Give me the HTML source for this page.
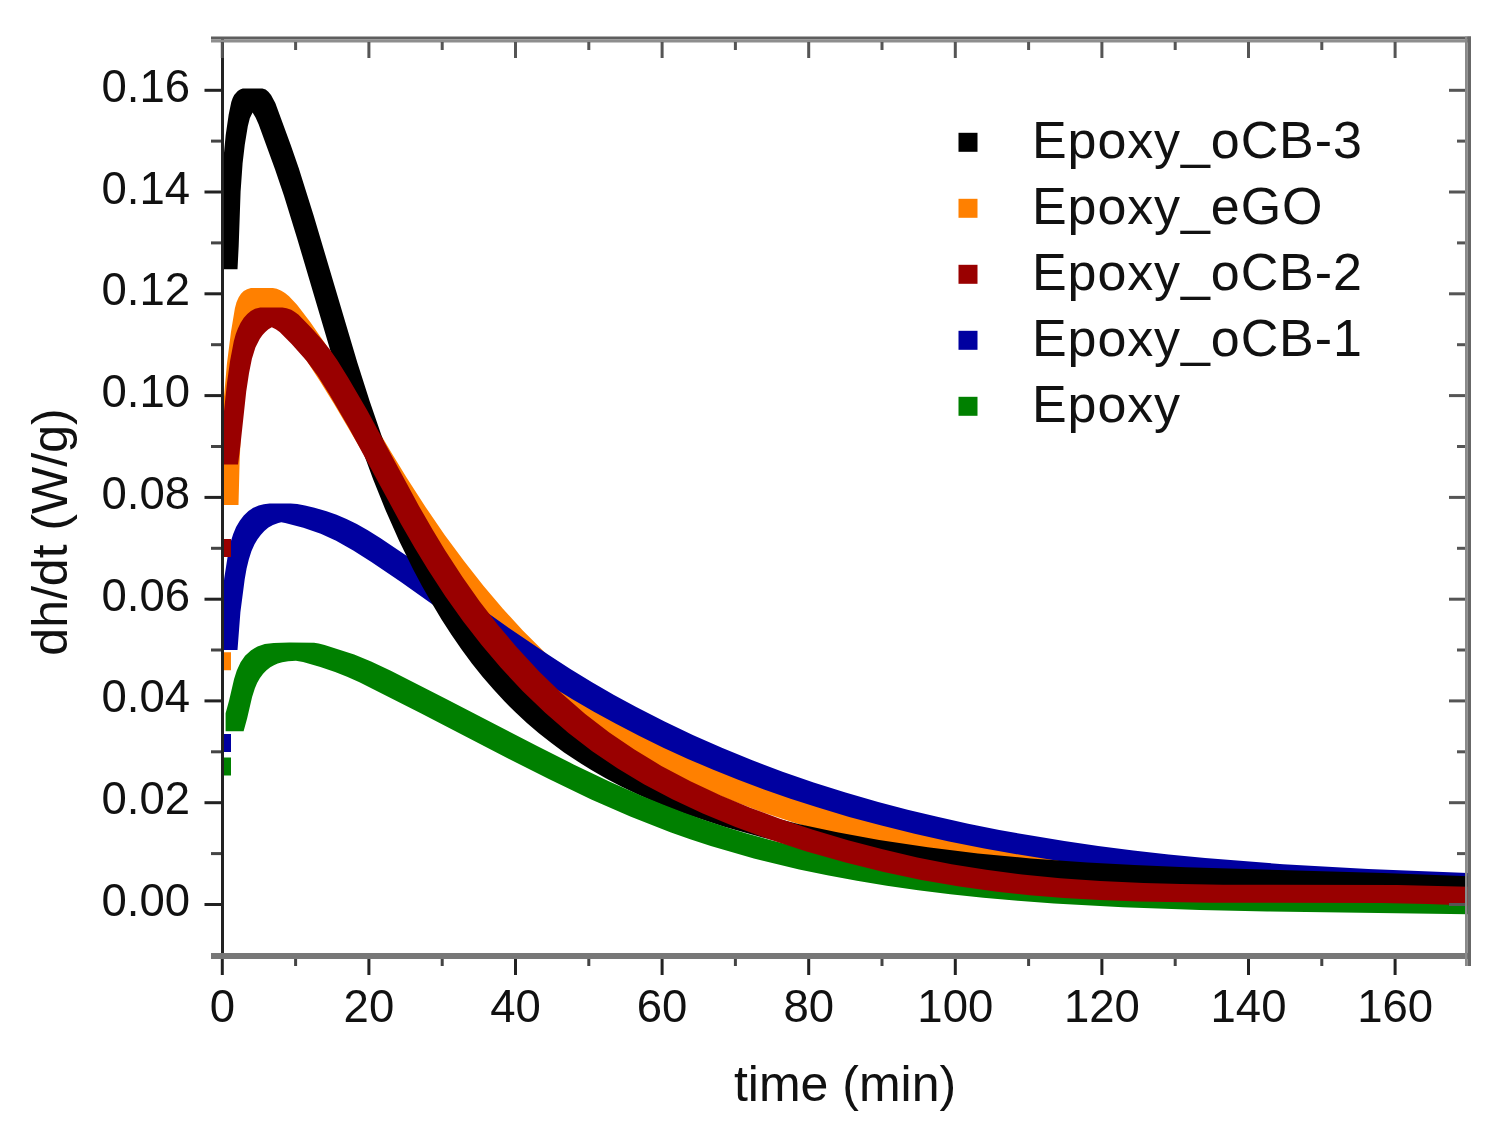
<!DOCTYPE html>
<html><head><meta charset="utf-8"><title>dh/dt vs time</title>
<style>html,body{margin:0;padding:0;background:#fff;}svg{display:block;}</style>
</head><body>
<svg width="1501" height="1137" viewBox="0 0 1501 1137">
<rect width="1501" height="1137" fill="#fff"/>
<path fill="#ff8000" d="M224.0,396.7 222.3,424.6 221.2,456.7 221.0,505.0 238.5,505.0 239.6,462.1 241.1,428.6 243.3,398.4 246.3,369.3 250.4,340.3 253.6,323.2 255.4,318.1 257.4,314.0 259.7,310.9 262.7,308.5 266.5,310.8 270.5,313.9 278.6,322.2 292.0,339.8 307.3,361.8 320.3,381.8 334.1,403.9 373.6,471.0 389.0,496.2 408.0,525.7 427.1,553.4 446.0,579.1 465.4,603.7 484.9,626.7 504.8,648.4 529.4,673.1 554.6,695.9 580.1,716.4 606.6,735.4 634.7,753.1 664.7,769.8 696.2,785.3 729.7,799.7 760.5,811.4 792.9,822.3 826.4,832.2 862.1,841.5 899.2,849.9 938.2,857.6 979.2,864.6 1021.3,870.7 1061.7,875.6 1104.0,879.9 1148.1,883.6 1195.3,886.8 1241.3,889.3 1292.2,891.6 1468.0,897.7 1468.0,879.0 1291.0,872.8 1233.6,870.0 1182.2,866.8 1130.3,862.7 1082.1,857.9 1035.7,852.2 991.2,845.6 956.2,839.6 922.5,833.0 890.7,826.0 859.6,818.3 829.9,810.0 801.2,801.1 773.9,791.7 747.7,781.7 714.2,767.3 682.7,751.8 652.7,735.1 624.6,717.4 598.1,698.4 572.6,677.9 547.4,655.1 522.8,630.4 502.9,608.7 483.4,585.7 464.0,561.1 444.7,534.9 425.7,507.2 406.7,477.7 391.3,452.5 352.4,386.5 338.7,364.3 325.6,344.3 310.4,322.3 297.0,304.7 289.0,296.3 285.0,293.1 281.3,290.8 276.8,288.8 272.8,288.0 250.9,288.1 247.1,289.2 243.8,291.1 241.0,293.7 238.6,297.4 236.5,302.3 234.9,308.3 231.0,331.7 226.9,363.9ZM231.0,670.3 231.0,652.3 221.0,652.3 221.0,670.3Z"/>
<path fill="#0000a0" d="M228.6,550.4 224.2,578.5 221.0,609.7 221.0,650.0 237.5,650.0 240.4,612.3 244.7,579.3 246.6,568.4 248.8,559.4 251.4,551.3 254.4,544.6 257.5,539.3 260.7,534.9 264.3,531.0 268.4,527.6 272.9,525.0 278.3,523.0 281.3,522.3 285.2,523.0 303.4,527.7 320.8,533.7 336.1,540.7 353.3,550.4 371.4,562.0 400.6,581.8 491.4,646.2 530.4,672.8 551.3,686.3 572.4,699.3 593.9,711.7 615.5,723.6 639.0,735.8 663.3,747.7 687.9,758.9 712.7,769.6 738.2,779.8 764.0,789.4 790.5,798.7 817.2,807.3 849.2,816.9 881.5,825.6 914.6,833.8 949.0,841.4 984.3,848.4 1020.3,854.8 1057.6,860.7 1095.7,866.0 1134.5,870.7 1174.6,874.9 1216.6,878.6 1260.4,881.9 1306.0,884.7 1354.5,887.2 1468.0,891.5 1468.0,873.0 1368.3,869.0 1283.2,864.2 1205.2,858.1 1168.7,854.5 1133.4,850.5 1098.2,845.9 1064.3,841.0 1031.2,835.6 999.3,829.9 968.2,823.7 937.3,816.8 907.6,809.7 878.2,801.9 845.5,792.5 813.6,782.4 782.5,771.7 752.3,760.3 722.4,748.1 693.3,735.2 664.6,721.6 636.7,707.3 614.0,694.9 592.0,682.2 570.3,669.0 548.4,654.8 508.9,627.9 422.9,566.8 380.2,538.0 367.8,530.3 356.8,524.1 346.5,519.0 336.6,514.8 326.6,511.3 314.5,507.7 305.0,505.4 297.2,504.1 290.6,503.6 269.6,503.6 263.8,504.3 258.7,505.5 253.3,507.8 248.5,511.0 243.8,515.5 239.8,520.8 236.1,527.1 233.2,533.9 230.8,541.4ZM231.0,752.0 231.0,734.0 221.0,734.0 221.0,752.0Z"/>
<path fill="#000000" d="M223.6,157.2 222.3,180.6 221.0,221.0 221.0,269.2 237.5,269.2 238.7,245.8 240.6,191.6 242.6,163.3 244.8,144.5 247.8,126.3 249.8,118.3 252.6,112.5 255.7,117.7 258.7,124.5 275.0,169.3 283.9,195.6 297.0,237.9 337.8,375.7 349.5,412.5 360.5,445.1 373.1,479.3 385.9,511.1 399.2,541.0 413.2,569.5 422.4,586.7 432.0,603.6 441.7,619.8 451.6,635.0 461.6,649.4 471.9,663.4 482.7,676.9 493.6,689.6 504.4,701.3 515.7,712.6 526.9,723.0 538.9,733.3 551.4,743.1 564.1,752.4 577.8,761.6 591.8,770.2 606.1,778.4 621.3,786.4 636.8,793.9 653.1,801.2 669.7,808.0 687.1,814.6 723.3,826.6 762.6,837.6 804.3,847.2 849.8,856.0 899.0,863.7 943.2,869.5 989.1,874.3 1037.8,878.4 1089.5,881.7 1170.4,885.3 1373.8,891.1 1468.0,895.1 1468.0,876.2 1383.3,872.9 1186.0,867.2 1134.3,865.1 1087.3,862.5 1030.9,858.4 977.9,853.4 927.8,847.2 879.2,839.9 837.2,832.3 798.4,823.9 761.7,814.6 727.4,804.3 695.5,793.1 665.1,780.6 636.6,767.0 609.8,752.2 595.8,743.6 582.6,734.8 569.8,725.5 557.4,715.7 545.8,705.8 534.5,695.4 523.3,684.2 512.4,672.5 501.5,659.8 491.0,646.8 480.6,632.8 470.6,618.5 460.7,603.3 450.9,587.2 441.5,570.8 432.3,553.6 418.8,526.3 405.8,497.5 393.4,467.4 381.5,435.5 369.7,401.2 357.4,362.8 313.4,214.7 298.7,168.0 290.8,145.2 275.3,103.0 271.0,95.0 268.3,91.8 265.6,89.5 262.4,88.5 242.8,88.6 240.1,89.5 237.8,90.9 234.2,95.0 232.7,98.1 231.3,102.1 228.7,114.6 225.7,135.0Z"/>
<path fill="#008000" d="M231.0,775.4 231.0,757.4 221.0,757.4 221.0,775.4ZM257.5,646.4 250.9,650.4 245.1,655.8 240.6,662.2 236.8,670.4 234.1,679.0 229.1,700.6 225.6,713.3 225.6,731.3 243.6,731.3 247.1,718.6 252.1,697.0 254.8,688.4 257.1,682.9 259.8,678.2 263.1,673.8 266.5,670.3 270.3,667.3 273.9,665.2 277.7,663.5 282.2,662.2 288.2,661.3 295.9,660.8 303.1,661.9 320.4,667.1 335.1,672.1 347.1,676.8 359.5,682.3 421.3,713.4 510.1,759.5 548.9,779.1 591.3,799.5 630.3,816.6 670.3,832.3 690.2,839.3 710.8,846.0 753.9,858.5 799.2,869.5 827.3,875.3 856.9,880.8 886.8,885.7 918.1,890.2 950.3,894.2 983.3,897.7 1017.7,900.8 1054.0,903.5 1122.8,907.3 1199.5,910.0 1267.3,911.4 1468.0,914.3 1468.0,895.9 1287.7,893.4 1215.0,891.9 1137.7,889.2 1069.0,885.3 1033.3,882.6 998.9,879.5 965.9,876.0 934.3,872.0 903.6,867.6 873.7,862.6 845.3,857.3 817.2,851.5 793.3,845.9 770.3,840.0 747.5,833.7 725.5,827.0 704.4,820.0 684.1,812.8 663.5,804.8 642.0,796.0 609.3,781.5 573.6,764.4 537.1,746.1 446.2,698.9 390.8,670.8 371.1,661.4 354.2,654.5 324.6,644.9 318.7,643.4 314.1,642.8 289.6,642.6 273.8,643.0 264.8,644.1Z"/>
<path fill="#990000" d="M231.0,556.9 231.0,538.9 221.0,538.9 221.0,556.9ZM230.1,360.7 227.0,383.0 221.0,439.2 221.0,464.6 238.0,464.6 240.4,445.6 246.2,391.7 249.0,373.3 251.9,358.7 255.4,347.5 259.7,338.9 262.5,335.0 265.3,331.9 268.4,329.2 271.8,327.2 275.8,329.2 279.7,332.1 291.6,344.1 306.3,360.5 317.6,375.7 328.8,393.4 348.4,426.9 401.1,524.2 414.8,548.1 427.9,569.6 445.3,596.3 463.1,621.3 481.6,645.1 500.7,667.6 522.8,691.2 545.2,712.8 568.2,732.7 592.2,751.2 617.4,768.3 643.9,784.2 672.4,799.3 702.8,813.5 735.5,827.1 769.9,839.6 806.5,851.4 845.6,862.4 883.7,871.9 921.4,879.9 959.4,886.5 997.1,891.7 1029.7,895.2 1063.7,897.9 1099.6,900.0 1138.7,901.5 1210.6,902.7 1382.2,903.1 1427.6,903.9 1468.0,905.4 1468.0,886.7 1397.3,885.0 1223.1,884.7 1180.9,884.1 1143.5,883.1 1100.3,881.1 1060.2,878.3 1022.2,874.5 986.2,869.8 951.6,864.2 917.3,857.4 882.6,849.3 848.0,840.2 813.0,829.8 780.6,819.0 749.6,807.5 720.8,795.5 690.4,781.3 661.4,765.9 634.4,749.6 609.3,732.5 585.2,714.0 561.8,693.6 539.1,671.5 516.7,647.3 497.7,624.7 479.7,601.4 462.3,576.8 445.2,550.6 432.5,529.6 418.8,505.7 367.0,409.9 348.3,378.0 337.3,360.2 329.8,349.5 322.0,339.8 311.7,328.3 298.6,314.8 294.8,311.9 291.2,309.8 286.6,308.2 282.4,307.5 260.2,307.5 255.0,308.7 250.9,310.9 247.3,313.9 243.7,318.0 240.5,322.9 237.9,328.4 235.8,334.1 233.8,341.3Z"/>
<rect x="221" y="39" width="3" height="920" fill="#222"/>
<rect x="211" y="36.5" width="1260" height="3" fill="#5e5e5e"/>
<rect x="211" y="39.5" width="1260" height="3" fill="#8e8e8e"/>
<rect x="211" y="953" width="1260" height="6" fill="#777"/>
<rect x="1465" y="36.5" width="2.5" height="929.5" fill="#8a8a8a"/>
<rect x="1467.5" y="36.5" width="3.5" height="929.5" fill="#686868"/>
<rect x="204.5" y="903.0" width="17" height="3" fill="#222"/>
<rect x="1449" y="903.0" width="16" height="3" fill="#555"/>
<rect x="211" y="852.1" width="10" height="3" fill="#444"/>
<rect x="1457" y="852.1" width="8" height="3" fill="#555"/>
<rect x="204.5" y="801.2" width="17" height="3" fill="#222"/>
<rect x="1449" y="801.2" width="16" height="3" fill="#555"/>
<rect x="211" y="750.3" width="10" height="3" fill="#444"/>
<rect x="1457" y="750.3" width="8" height="3" fill="#555"/>
<rect x="204.5" y="699.4" width="17" height="3" fill="#222"/>
<rect x="1449" y="699.4" width="16" height="3" fill="#555"/>
<rect x="211" y="648.5" width="10" height="3" fill="#444"/>
<rect x="1457" y="648.5" width="8" height="3" fill="#555"/>
<rect x="204.5" y="597.7" width="17" height="3" fill="#222"/>
<rect x="1449" y="597.7" width="16" height="3" fill="#555"/>
<rect x="211" y="546.8" width="10" height="3" fill="#444"/>
<rect x="1457" y="546.8" width="8" height="3" fill="#555"/>
<rect x="204.5" y="495.9" width="17" height="3" fill="#222"/>
<rect x="1449" y="495.9" width="16" height="3" fill="#555"/>
<rect x="211" y="445.0" width="10" height="3" fill="#444"/>
<rect x="1457" y="445.0" width="8" height="3" fill="#555"/>
<rect x="204.5" y="394.1" width="17" height="3" fill="#222"/>
<rect x="1449" y="394.1" width="16" height="3" fill="#555"/>
<rect x="211" y="343.2" width="10" height="3" fill="#444"/>
<rect x="1457" y="343.2" width="8" height="3" fill="#555"/>
<rect x="204.5" y="292.3" width="17" height="3" fill="#222"/>
<rect x="1449" y="292.3" width="16" height="3" fill="#555"/>
<rect x="211" y="241.4" width="10" height="3" fill="#444"/>
<rect x="1457" y="241.4" width="8" height="3" fill="#555"/>
<rect x="204.5" y="190.5" width="17" height="3" fill="#222"/>
<rect x="1449" y="190.5" width="16" height="3" fill="#555"/>
<rect x="211" y="139.6" width="10" height="3" fill="#444"/>
<rect x="1457" y="139.6" width="8" height="3" fill="#555"/>
<rect x="204.5" y="88.8" width="17" height="3" fill="#222"/>
<rect x="1449" y="88.8" width="16" height="3" fill="#555"/>
<rect x="220.8" y="959" width="3" height="16" fill="#222"/>
<rect x="220.8" y="42" width="3" height="16" fill="#555"/>
<rect x="294.1" y="959" width="3" height="7" fill="#444"/>
<rect x="294.1" y="42" width="3" height="8" fill="#555"/>
<rect x="367.4" y="959" width="3" height="16" fill="#222"/>
<rect x="367.4" y="42" width="3" height="16" fill="#555"/>
<rect x="440.7" y="959" width="3" height="7" fill="#444"/>
<rect x="440.7" y="42" width="3" height="8" fill="#555"/>
<rect x="514.0" y="959" width="3" height="16" fill="#222"/>
<rect x="514.0" y="42" width="3" height="16" fill="#555"/>
<rect x="587.3" y="959" width="3" height="7" fill="#444"/>
<rect x="587.3" y="42" width="3" height="8" fill="#555"/>
<rect x="660.6" y="959" width="3" height="16" fill="#222"/>
<rect x="660.6" y="42" width="3" height="16" fill="#555"/>
<rect x="733.9" y="959" width="3" height="7" fill="#444"/>
<rect x="733.9" y="42" width="3" height="8" fill="#555"/>
<rect x="807.2" y="959" width="3" height="16" fill="#222"/>
<rect x="807.2" y="42" width="3" height="16" fill="#555"/>
<rect x="880.5" y="959" width="3" height="7" fill="#444"/>
<rect x="880.5" y="42" width="3" height="8" fill="#555"/>
<rect x="953.8" y="959" width="3" height="16" fill="#222"/>
<rect x="953.8" y="42" width="3" height="16" fill="#555"/>
<rect x="1027.1" y="959" width="3" height="7" fill="#444"/>
<rect x="1027.1" y="42" width="3" height="8" fill="#555"/>
<rect x="1100.4" y="959" width="3" height="16" fill="#222"/>
<rect x="1100.4" y="42" width="3" height="16" fill="#555"/>
<rect x="1173.7" y="959" width="3" height="7" fill="#444"/>
<rect x="1173.7" y="42" width="3" height="8" fill="#555"/>
<rect x="1247.0" y="959" width="3" height="16" fill="#222"/>
<rect x="1247.0" y="42" width="3" height="16" fill="#555"/>
<rect x="1320.3" y="959" width="3" height="7" fill="#444"/>
<rect x="1320.3" y="42" width="3" height="8" fill="#555"/>
<rect x="1393.6" y="959" width="3" height="16" fill="#222"/>
<rect x="1393.6" y="42" width="3" height="16" fill="#555"/>
<text x="190" y="916.0" font-size="45.5" text-anchor="end" fill="#111" font-family="'Liberation Sans', Arial, sans-serif">0.00</text>
<text x="190" y="814.2" font-size="45.5" text-anchor="end" fill="#111" font-family="'Liberation Sans', Arial, sans-serif">0.02</text>
<text x="190" y="712.4" font-size="45.5" text-anchor="end" fill="#111" font-family="'Liberation Sans', Arial, sans-serif">0.04</text>
<text x="190" y="610.7" font-size="45.5" text-anchor="end" fill="#111" font-family="'Liberation Sans', Arial, sans-serif">0.06</text>
<text x="190" y="508.9" font-size="45.5" text-anchor="end" fill="#111" font-family="'Liberation Sans', Arial, sans-serif">0.08</text>
<text x="190" y="407.1" font-size="45.5" text-anchor="end" fill="#111" font-family="'Liberation Sans', Arial, sans-serif">0.10</text>
<text x="190" y="305.3" font-size="45.5" text-anchor="end" fill="#111" font-family="'Liberation Sans', Arial, sans-serif">0.12</text>
<text x="190" y="203.5" font-size="45.5" text-anchor="end" fill="#111" font-family="'Liberation Sans', Arial, sans-serif">0.14</text>
<text x="190" y="101.8" font-size="45.5" text-anchor="end" fill="#111" font-family="'Liberation Sans', Arial, sans-serif">0.16</text>
<text x="222.3" y="1022" font-size="45.5" text-anchor="middle" fill="#111" font-family="'Liberation Sans', Arial, sans-serif">0</text>
<text x="368.9" y="1022" font-size="45.5" text-anchor="middle" fill="#111" font-family="'Liberation Sans', Arial, sans-serif">20</text>
<text x="515.5" y="1022" font-size="45.5" text-anchor="middle" fill="#111" font-family="'Liberation Sans', Arial, sans-serif">40</text>
<text x="662.1" y="1022" font-size="45.5" text-anchor="middle" fill="#111" font-family="'Liberation Sans', Arial, sans-serif">60</text>
<text x="808.7" y="1022" font-size="45.5" text-anchor="middle" fill="#111" font-family="'Liberation Sans', Arial, sans-serif">80</text>
<text x="955.3" y="1022" font-size="45.5" text-anchor="middle" fill="#111" font-family="'Liberation Sans', Arial, sans-serif">100</text>
<text x="1101.9" y="1022" font-size="45.5" text-anchor="middle" fill="#111" font-family="'Liberation Sans', Arial, sans-serif">120</text>
<text x="1248.5" y="1022" font-size="45.5" text-anchor="middle" fill="#111" font-family="'Liberation Sans', Arial, sans-serif">140</text>
<text x="1395.1" y="1022" font-size="45.5" text-anchor="middle" fill="#111" font-family="'Liberation Sans', Arial, sans-serif">160</text>
<text x="845" y="1100.5" font-size="50" text-anchor="middle" fill="#111" font-family="'Liberation Sans', Arial, sans-serif">time (min)</text>
<text transform="translate(66.5,532) rotate(-90)" x="0" y="0" font-size="50" text-anchor="middle" fill="#111" font-family="'Liberation Sans', Arial, sans-serif">dh/dt (W/g)</text>
<rect x="958.5" y="132.8" width="19" height="19" fill="#000000"/>
<text x="1032" y="157.8" font-size="52" letter-spacing="0.9" fill="#111" font-family="'Liberation Sans', Arial, sans-serif">Epoxy_oCB-3</text>
<rect x="958.5" y="198.8" width="19" height="19" fill="#ff8000"/>
<text x="1032" y="223.8" font-size="52" letter-spacing="0.9" fill="#111" font-family="'Liberation Sans', Arial, sans-serif">Epoxy_eGO</text>
<rect x="958.5" y="264.8" width="19" height="19" fill="#990000"/>
<text x="1032" y="289.8" font-size="52" letter-spacing="0.9" fill="#111" font-family="'Liberation Sans', Arial, sans-serif">Epoxy_oCB-2</text>
<rect x="958.5" y="330.8" width="19" height="19" fill="#0000a0"/>
<text x="1032" y="355.8" font-size="52" letter-spacing="0.9" fill="#111" font-family="'Liberation Sans', Arial, sans-serif">Epoxy_oCB-1</text>
<rect x="958.5" y="396.8" width="19" height="19" fill="#008000"/>
<text x="1032" y="421.8" font-size="52" letter-spacing="0.9" fill="#111" font-family="'Liberation Sans', Arial, sans-serif">Epoxy</text>
</svg>
</body></html>
